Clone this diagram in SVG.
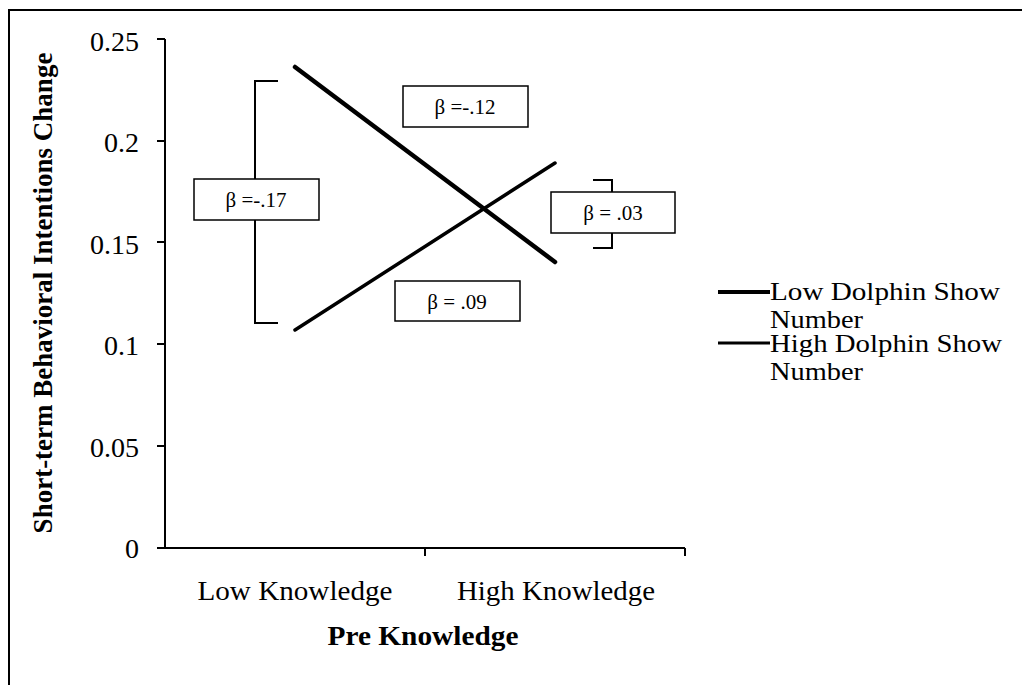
<svg xmlns="http://www.w3.org/2000/svg" width="1022" height="685" viewBox="0 0 1022 685">
<style>
.t{font-family:"Liberation Serif","Times New Roman",serif;fill:#000}
.tick{font-size:28px;text-anchor:end}
.cat{font-size:28px;text-anchor:middle}
.b{font-weight:bold}
.lab{font-size:21px;text-anchor:middle}
.leg{font-size:26px}
.ax{stroke:#000;stroke-width:2;fill:none}
.box{fill:#fff;stroke:#000;stroke-width:1.5}
.br{stroke:#000;stroke-width:2;fill:none}
</style>
<rect width="1022" height="685" fill="#fff"/>
<g id="frame">
<path d="M1022,10 H9 V685" class="ax" stroke-width="2.5"/>
</g>
<g id="axes">
<path d="M165,39 V548 H685" class="ax"/>
<path d="M157,39 H165 M157,141 H165 M157,242 H165 M157,344 H165 M157,446 H165 M157,548 H165 M425,548 V556 M685,548 V556" class="ax"/>
<text class="t tick" x="139" y="51">0.25</text>
<text class="t tick" x="139" y="152">0.2</text>
<text class="t tick" x="139" y="254">0.15</text>
<text class="t tick" x="139" y="355">0.1</text>
<text class="t tick" x="139" y="457">0.05</text>
<text class="t tick" x="139" y="558">0</text>
<text class="t cat" x="295" y="600" textLength="195" lengthAdjust="spacingAndGlyphs">Low Knowledge</text>
<text class="t cat" x="556" y="600" textLength="198" lengthAdjust="spacingAndGlyphs">High Knowledge</text>
<text class="t cat b" x="423" y="645" textLength="191" lengthAdjust="spacingAndGlyphs">Pre Knowledge</text>
<text class="t b" font-size="27" text-anchor="middle" transform="translate(52,293) rotate(-90)">Short-term Behavioral Intentions Change</text>
</g>
<g id="connectors">
<path id="bracket-left" d="M278,81 H255 V323 H278" class="br"/>
<path id="bracket-right" d="M593,180 H612 V248 H593" class="br"/>
<line id="low-series" x1="295" y1="67" x2="555" y2="262" stroke="#000" stroke-width="4.5" stroke-linecap="round"/>
<line id="high-series" x1="295" y1="330" x2="555" y2="163" stroke="#000" stroke-width="3.5" stroke-linecap="round"/>
</g>
<g id="label-low">
<rect class="box" x="194" y="179" width="125" height="41"/>
<text class="t lab" x="256" y="207">β =-.17</text>
</g>
<g id="label-lowslope">
<rect class="box" x="403" y="86" width="125" height="41"/>
<text class="t lab" x="465" y="114">β =-.12</text>
</g>
<g id="label-high">
<rect class="box" x="551" y="192" width="124" height="41"/>
<text class="t lab" x="613" y="220">β = .03</text>
</g>
<g id="label-highslope">
<rect class="box" x="395" y="281" width="125" height="40"/>
<text class="t lab" x="457" y="309">β = .09</text>
</g>
<g id="legend">
<line x1="718" y1="292" x2="770" y2="292" stroke="#000" stroke-width="4"/>
<text class="t leg" x="770" y="300" textLength="230" lengthAdjust="spacingAndGlyphs">Low Dolphin Show</text>
<text class="t leg" x="770" y="328" textLength="93" lengthAdjust="spacingAndGlyphs">Number</text>
<line x1="718" y1="343" x2="770" y2="343" stroke="#000" stroke-width="3"/>
<text class="t leg" x="770" y="352" textLength="232" lengthAdjust="spacingAndGlyphs">High Dolphin Show</text>
<text class="t leg" x="770" y="380" textLength="93" lengthAdjust="spacingAndGlyphs">Number</text>
</g>
</svg>
